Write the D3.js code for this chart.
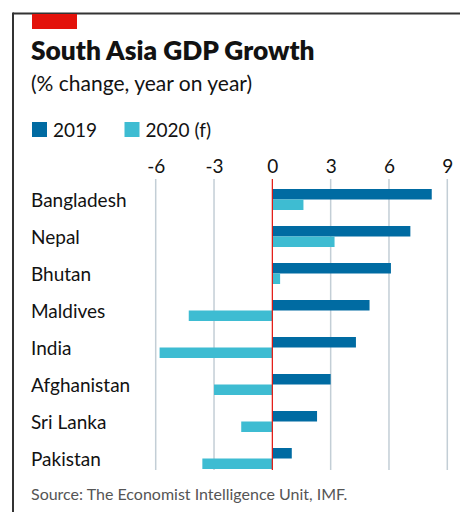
<!DOCTYPE html>
<html>
<head>
<meta charset="utf-8">
<script src="https://d3js.org/d3.v7.min.js"></script>
<style>
  body{
    margin:0;
    background-color:#ffffff;
  }
  svg text{
    font-family: Lato, "Open Sans", sans-serif;
  }
</style>
</head>
<body>
<div id="chart"></div>
<script>
  // values
  var countries = ["Bangladesh","Nepal","Bhutan","Maldives","India","Afghanistan","Sri Lanka","Pakistan"]
  var growth2019 = [8.2, 7.1, 6.1, 5.0, 4.3, 3.0, 2.3, 1.0]
  var growth2020 = [1.6, 3.2, 0.4, -4.3, -5.8, -3.0, -1.6, -3.6]
  var seriesNames = ["2019","2020 (f)"]
  var tickValues = [-6,-3,0,3,6,9]

  var width = 460
  var height = 513
  var dark = "#006ba2"
  var light = "#3ebcd2"
  var red = "#e3120b"

  var svg = d3.select("#chart").append("svg")
      .attr("width",width)
      .attr("height",height);

  // frame: top and left rule
  svg.append("line").attr("x1",13).attr("y1",13.5).attr("x2",width).attr("y2",13.5)
      .attr("stroke","#333").attr("stroke-width",2);
  svg.append("line").attr("x1",13).attr("y1",12.5).attr("x2",13).attr("y2",512)
      .attr("stroke","#333").attr("stroke-width",2);
  svg.append("rect").attr("x",32).attr("y",14).attr("width",45).attr("height",15)
      .attr("fill",red);

  svg.append("text").attr("x",31).attr("y",60)
      .attr("font-size",26.3).attr("font-weight",800).attr("fill","#121212")
      .text("South Asia GDP Growth");
  svg.append("text").attr("x",31).attr("y",91)
      .attr("font-size",21).attr("fill","#121212")
      .text("(% change, year on year)");

  // legend
  var legend = svg.selectAll("g.legend")
      .data(seriesNames)
      .enter().append("g")
      .attr("class","legend")
      .attr("transform",function(d,i){ return "translate(" + (32 + i*92.5) + ",122)"; });
  legend.append("rect").attr("width",15).attr("height",15)
      .attr("fill",function(d,i){ return i==0 ? dark : light; });
  legend.append("text").attr("x",21).attr("y",14.5)
      .attr("font-size",19).attr("fill","#121212")
      .text(function(d){ return d; });

  var x = d3.scaleLinear()
      .domain([-6, 9])
      .range([155.7, 447.3]);
  var y = d3.scaleBand()
      .domain(countries)
      .range([181, 477])
      .paddingInner(0.4324)
      .paddingOuter(0.2162);
  var y1 = d3.scaleBand()
      .domain(seriesNames)
      .range([0, y.bandwidth()]);

  var gridTop = 179
  var gridBottom = 470

  // gridlines
  svg.selectAll("line.grid")
      .data(tickValues.filter(function(d){ return d != 0; }))
      .enter().append("line")
      .attr("class","grid")
      .attr("x1",function(d){ return x(d); })
      .attr("x2",function(d){ return x(d); })
      .attr("y1",gridTop).attr("y2",gridBottom)
      .attr("stroke","#c3ced6").attr("stroke-width",1.5);

  // tick labels via axis
  var axis = svg.append("g")
      .attr("transform","translate(0," + gridTop + ")")
      .call(d3.axisTop(x).tickValues(tickValues).tickSize(0).tickPadding(6)
        .tickFormat(function(d){ return d < 0 ? "-" + Math.abs(d) : d; }));
  axis.select(".domain").remove();
  axis.selectAll("text")
      .attr("font-family","Lato, sans-serif")
      .attr("font-size",19).attr("fill","#121212");

  var rows = countries.map(function(c,i){
    return {country:c, values:[growth2019[i], growth2020[i]]};
  });

  var groups = svg.selectAll("g.row")
      .data(rows)
      .enter().append("g")
      .attr("class","row")
      .attr("transform",function(d){ return "translate(0," + y(d.country) + ")"; });

  groups.selectAll("rect")
      .data(function(d){ return d.values; })
      .enter().append("rect")
      .attr("x",function(d){ return x(Math.min(0,d)); })
      .attr("width",function(d){ return Math.abs(x(d) - x(0)); })
      .attr("y",function(d,i){ return y1(seriesNames[i]); })
      .attr("height",y1.bandwidth())
      .attr("fill",function(d,i){ return i==0 ? dark : light; });

  groups.append("text")
      .attr("x",31)
      .attr("y",y.bandwidth()/2 + 7.5)
      .attr("font-size",19).attr("fill","#121212")
      .text(function(d){ return d.country; });

  // zero line
  svg.append("line")
      .attr("x1",x(0)).attr("x2",x(0))
      .attr("y1",gridTop).attr("y2",gridBottom)
      .attr("stroke",red).attr("stroke-width",1.2);

  svg.append("text").attr("x",31).attr("y",500)
      .attr("font-size",16).attr("fill","#555")
      .text("Source: The Economist Intelligence Unit, IMF.");
</script>
</body>
</html>
